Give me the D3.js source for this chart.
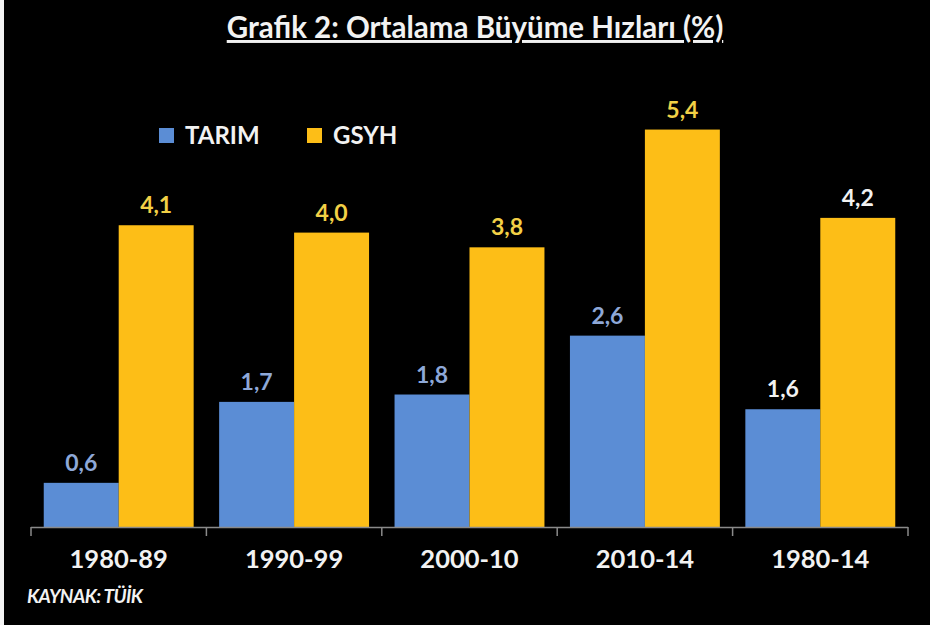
<!DOCTYPE html>
<html>
<head>
<meta charset="utf-8">
<script src="https://cdn.jsdelivr.net/npm/d3@7"></script>
<style>
  html, body { margin: 0; padding: 0; background: #000; }
  svg { display: block; }
  text { font-family: Lato, "Open Sans", sans-serif; font-weight: bold; }
</style>
</head>
<body>
<script>
const categories = ["1980-89", "1990-99", "2000-10", "2010-14", "1980-14"];
const seriesNames = ["TARIM", "GSYH"];
const tarim = [0.6, 1.7, 1.8, 2.6, 1.6];
const gsyh = [4.1, 4.0, 3.8, 5.4, 4.2];
const labelsTarim = ["0,6", "1,7", "1,8", "2,6", "1,6"];
const labelsGsyh = ["4,1", "4,0", "3,8", "5,4", "4,2"];

const W = 930, H = 625;
const barColors = { TARIM: "#5b8dd5", GSYH: "#fdbe17" };
const labelColors = { TARIM: "#8ea8d8", GSYH: "#f2d046" };

const svg = d3.select("body").append("svg").attr("width", W).attr("height", H);
svg.append("rect").attr("width", W).attr("height", H).attr("fill", "#000");
svg.append("rect").attr("x", 0).attr("y", 0).attr("width", 4).attr("height", H).attr("fill", "#f4f4f4");

const x0 = d3.scaleBand().domain(categories).range([31, 908]).padding(0);
const x1 = d3.scaleBand().domain(seriesNames).range([0, x0.bandwidth()]).paddingInner(0).paddingOuter(0.17);
const y = d3.scaleLinear().domain([0, 6]).range([527, 85.4]);

const rows = categories.map((c, i) => ({
  cat: c, i,
  vals: [
    { s: "TARIM", v: tarim[i], l: labelsTarim[i] },
    { s: "GSYH", v: gsyh[i], l: labelsGsyh[i] }
  ]
}));

const g = svg.append("g");
const grp = g.selectAll("g.grp").data(rows).join("g")
  .attr("transform", d => `translate(${x0(d.cat)},0)`);

grp.selectAll("rect").data(d => d.vals).join("rect")
  .attr("x", d => x1(d.s))
  .attr("y", d => y(d.v))
  .attr("width", x1.bandwidth())
  .attr("height", d => y(0) - y(d.v))
  .attr("fill", d => barColors[d.s]);

grp.selectAll("text.val").data(d => d.vals.map(v => ({ ...v, last: d.i === categories.length - 1 }))).join("text")
  .attr("class", "val")
  .attr("x", d => x1(d.s) + x1.bandwidth() / 2)
  .attr("y", d => y(d.v) - 12)
  .attr("text-anchor", "middle")
  .attr("font-size", 23)
  .attr("fill", d => d.last ? "#f2f2f2" : labelColors[d.s])
  .text(d => d.l);

// axis
const axisG = svg.append("g").attr("transform", `translate(0,${y(0)})`);
axisG.append("line").attr("x1", 31).attr("x2", 908).attr("y1", 0.5).attr("y2", 0.5)
  .attr("stroke", "#8a8a8a").attr("stroke-width", 1.5);
const tickPos = categories.map(c => x0(c)).concat([x0(categories[categories.length - 1]) + x0.bandwidth()]);
axisG.selectAll("line.tick").data(tickPos).join("line").attr("class", "tick")
  .attr("x1", d => d).attr("x2", d => d).attr("y1", 0).attr("y2", 9)
  .attr("stroke", "#8a8a8a").attr("stroke-width", 1.5);
axisG.selectAll("text.cat").data(categories).join("text").attr("class", "cat")
  .attr("x", d => x0(d) + x0.bandwidth() / 2)
  .attr("y", 41)
  .attr("text-anchor", "middle")
  .attr("font-size", 25.5)
  .attr("fill", "#f2f2f2")
  .text(d => d);

// title
svg.append("text")
  .attr("x", 475).attr("y", 38)
  .attr("text-anchor", "middle")
  .attr("font-size", 29.5)
  .attr("fill", "#f2f2f2")
  .attr("text-decoration", "underline")
  .text("Grafik 2: Ortalama Büyüme Hızları (%)");

// legend
const legend = svg.append("g");
const legX = [159, 307];
seriesNames.forEach((s, i) => {
  legend.append("rect").attr("x", legX[i]).attr("y", 128).attr("width", 15).attr("height", 15).attr("fill", barColors[s]);
  legend.append("text").attr("x", legX[i] + 26).attr("y", 144)
    .attr("font-size", 24).attr("fill", "#f2f2f2").text(s);
});

// source
svg.append("text").attr("x", 27).attr("y", 603)
  .attr("font-size", 19).attr("font-style", "italic")
  .attr("letter-spacing", -0.6)
  .attr("fill", "#f2f2f2")
  .text("KAYNAK: TÜİK");
</script>
</body>
</html>
